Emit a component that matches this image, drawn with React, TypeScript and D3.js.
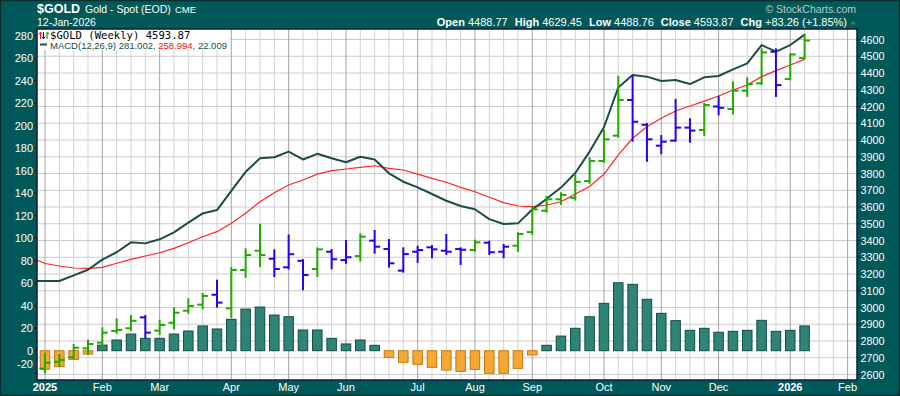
import * as d3 from 'd3';

// weekly bars, first one is the week of 30-Dec-2024 (falls just left of the plot)
const firstWeek = Date.UTC(2024, 11, 30);
const lastGridWeek = Date.UTC(2026, 1, 8);

const open = [2621, 2635, 2676, 2703, 2756, 2790, 2860, 2876, 2941, 2862, 2909, 2981, 3017, 3076, 2995, 3224, 3339, 3291, 3240, 3279, 3230, 3333, 3283, 3307, 3399, 3349, 3220, 3333, 3359, 3339, 3349, 3343, 3387, 3333, 3369, 3450, 3578, 3646, 3655, 3755, 3875, 4026, 4239, 4091, 3966, 3996, 4074, 4060, 4200, 4185, 4294, 4338, 4527, 4364, 4488.77];
const high = [2665, 2725, 2716, 2776, 2802, 2876, 2930, 2949, 2949, 2921, 2995, 3049, 3081, 3160, 3234, 3347, 3493, 3341, 3430, 3283, 3353, 3343, 3397, 3437, 3457, 3403, 3353, 3363, 3367, 3433, 3353, 3399, 3393, 3373, 3443, 3600, 3661, 3682, 3790, 3891, 4054, 4378, 4378, 4096, 4024, 4239, 4124, 4215, 4258, 4344, 4368, 4541, 4541, 4511, 4629.45];
const low = [2596, 2612, 2651, 2697, 2722, 2766, 2850, 2866, 2822, 2842, 2876, 2969, 2995, 3005, 2945, 3184, 3248, 3188, 3234, 3109, 3188, 3234, 3267, 3280, 3327, 3244, 3214, 3273, 3300, 3320, 3260, 3339, 3320, 3300, 3339, 3440, 3572, 3618, 3645, 3745, 3870, 4020, 3996, 3876, 3921, 3996, 3990, 4030, 4153, 4159, 4263, 4334, 4263, 4362, 4488.76];
const close = [2640, 2670, 2687, 2760, 2782, 2850, 2866, 2921, 2850, 2896, 2969, 3009, 3069, 3029, 3224, 3313, 3313, 3230, 3318, 3194, 3347, 3288, 3300, 3423, 3363, 3264, 3319, 3343, 3347, 3333, 3345, 3389, 3330, 3363, 3439, 3586, 3646, 3672, 3750, 3875, 4004, 4239, 4109, 4004, 3990, 4074, 4056, 4209, 4192, 4294, 4334, 4523, 4328, 4510.61, 4593.87];
// u = up week (green), d = down week (blue), as coloured on the chart
const tone = 'uuuuuuuu' + 'd' + 'uuuu' + 'd' + 'uuu' + 'ddd' + 'u' + 'dd' + 'u' + 'ddddddd' + 'u' + 'dd' + 'uuuuuuuu' + 'ddddd' + 'u' + 'd' + 'uuu' + 'd' + 'uu';

const macd = [62, 62, 62, 67, 72, 81, 87.5, 96.3, 95.4, 99, 105.2, 113.8, 122, 125, 142, 159, 171, 172, 177, 170, 175, 171, 167.5, 172.4, 170, 157.7, 150.2, 145.2, 139.3, 133.3, 128.6, 125.7, 117, 112.6, 113.2, 125.5, 135, 145, 158, 177, 198.6, 234, 245, 243.6, 239.7, 240.6, 237, 243, 244.2, 250.1, 255.4, 271.7, 265.8, 271.7, 281.002];
const signal = [83, 77.5, 75.3, 73.5, 73.2, 74.1, 77.7, 81.2, 84.2, 87.1, 91, 96, 101.3, 105.8, 113.2, 122.1, 132.4, 140.4, 147.3, 151.7, 157, 160, 161.5, 163, 164.4, 162.1, 160.6, 157, 153.2, 149.7, 145.2, 141.3, 136.4, 131.6, 128.6, 128, 129.5, 132.4, 139.3, 146, 156.8, 174, 188.8, 199.1, 206.6, 213.1, 217.5, 221.9, 226.4, 231.7, 236.2, 243.6, 249, 254, 258.994];
const histogram = [-19, -16.5, -14.2, -7.7, -3, 5, 9.5, 14.8, 11, 11, 14.8, 17.5, 22, 19.3, 27.9, 37, 38.8, 31.7, 30.2, 18.4, 18.4, 11, 6, 9.5, 4.8, -5.9, -10.3, -12.1, -14.8, -17.2, -18.4, -16.6, -20.1, -20.1, -15.7, -3.8, 4.8, 13, 19.9, 30.2, 42.1, 60.4, 59, 45.7, 33.2, 26.7, 18.1, 19.9, 16.4, 17.2, 18.1, 27, 17.2, 18.1, 22.009];

const macdTicks = [-20, 0, 20, 40, 60, 80, 100, 120, 140, 160, 180, 200, 220, 240, 260, 280];
const priceTicks = [2600, 2700, 2800, 2900, 3000, 3100, 3200, 3300, 3400, 3500, 3600, 3700, 3800, 3900, 4000, 4100, 4200, 4300, 4400, 4500, 4600];

const BG = '#015858';
const UP = '#22aa00';
const DOWN = '#2a00ee';
const MACD_C = '#1c4c4a';
const SIG_C = '#ff2424';
const FONT = '"Liberation Sans", Arial, sans-serif';

const plot = { left: 37, top: 29, right: 857, bottom: 380 };

export default function App() {
  const weeks = d3.utcMonday.range(new Date(firstWeek), new Date(lastGridWeek));
  const n = close.length;
  const last = n - 1;

  const x = d3.scaleUtc().domain([weeks[1], weeks[last]]).range([45, 804.6]);
  const yPrice = d3.scaleLinear().domain([2600, 4600]).range([374.5, 39.5]);
  const yMacd = d3.scaleLinear().domain([-20, 280]).range([373.2, 35.7]);

  const lineOf = (vals: number[]) =>
    d3.line<number>().x((_, i) => x(weeks[i])).y((v) => yMacd(v))(vals) ?? '';

  // month starts get a darker grid line and a label
  const monthStarts = weeks.filter((w, i) => i > 0 && w.getUTCMonth() !== weeks[i - 1].getUTCMonth());
  const isMonthStart = (w: Date) => monthStarts.some((m) => +m === +w);

  const chg = close[last] - close[last - 1];
  const pct = (chg / close[last - 1]) * 100;
  const quote: [string, string][] = [
    ['Open', open[last].toFixed(2)],
    ['High', high[last].toFixed(2)],
    ['Low', low[last].toFixed(2)],
    ['Close', close[last].toFixed(2)],
    ['Chg', `+${chg.toFixed(2)} (+${pct.toFixed(2)}%)`],
  ];

  const barW = 9.5;
  const tick = 5.5;

  return (
    <div style={{ position: 'absolute', left: 0, top: 0 }}>
      <svg width={900} height={396} style={{ display: 'block', fontFamily: FONT }}>
        <defs>
          <clipPath id="plotClip">
            <rect x={plot.left} y={plot.top} width={plot.right - plot.left} height={plot.bottom - plot.top} />
          </clipPath>
        </defs>

        <rect x={0} y={0} width={900} height={396} fill={BG} />
        <rect x={0.5} y={0.5} width={899} height={395} fill="none" stroke="#0c2e2e" strokeWidth={1.5} />

        {/* Header */}
        <text x={37} y={13} fill="#fff" fontSize={12.5} fontWeight="bold">$GOLD</text>
        <text x={85} y={13} fill="#fff" fontSize={10.5}>Gold - Spot (EOD)</text>
        <text x={175} y={13} fill="#fff" fontSize={9.5}>CME</text>
        <text x={37} y={26} fill="#fff" fontSize={10.5}>12-Jan-2026</text>
        <text x={856} y={12.5} fill="#b9caca" fontSize={10.5} textAnchor="end">© StockCharts.com</text>
        <text x={847} y={26} fill="#fff" fontSize={11} textAnchor="end">
          {quote.map(([label, val], i) => (
            <tspan key={label}>
              <tspan dx={i === 0 ? 0 : 7} fontWeight="bold">{label}</tspan>
              <tspan>{' ' + val}</tspan>
            </tspan>
          ))}
        </text>
        <path d="M850,24.5 L853,20.5 L856,24.5 Z" fill="#3d7a55" />

        {/* Plot */}
        <rect x={plot.left} y={plot.top} width={plot.right - plot.left} height={plot.bottom - plot.top} fill="#fff" />
        <g clipPath="url(#plotClip)">
          {priceTicks.map((p) => (
            <line key={p} x1={plot.left} x2={plot.right} y1={yPrice(p)} y2={yPrice(p)} stroke="#cbcbcb" strokeWidth={1} />
          ))}
          {weeks.map((w) => (
            <line
              key={+w}
              x1={x(w)}
              x2={x(w)}
              y1={plot.top}
              y2={plot.bottom}
              stroke={isMonthStart(w) ? '#a4a4a4' : '#d2d2d2'}
              strokeWidth={1}
            />
          ))}

          {/* legend backing */}
          <rect x={plot.left + 1} y={plot.top + 1} width={192} height={20} fill="#fff" />

          {/* MACD histogram */}
          {histogram.map((v, i) => (
            <rect
              key={i}
              x={x(weeks[i]) - barW / 2}
              y={yMacd(Math.max(v, 0))}
              width={barW}
              height={Math.abs(yMacd(v) - yMacd(0))}
              fill={v >= 0 ? '#2e8577' : '#f7a733'}
              stroke={v >= 0 ? '#124c44' : '#c27814'}
              strokeWidth={1}
            />
          ))}

          <path d={lineOf(signal)} fill="none" stroke={SIG_C} strokeWidth={1.2} />
          <path d={lineOf(macd)} fill="none" stroke={MACD_C} strokeWidth={2} strokeLinejoin="round" />

          {/* OHLC bars */}
          {close.map((c, i) => {
            const cx = x(weeks[i]);
            const col = tone[i] === 'u' ? UP : DOWN;
            return (
              <g key={i} stroke={col} strokeWidth={2}>
                <line x1={cx} x2={cx} y1={yPrice(high[i]) - 1} y2={yPrice(low[i]) + 1} />
                <line x1={cx - tick} x2={cx} y1={yPrice(open[i])} y2={yPrice(open[i])} />
                <line x1={cx} x2={cx + tick} y1={yPrice(c)} y2={yPrice(c)} />
              </g>
            );
          })}
        </g>

        {/* Legend */}
        <g>
          <line x1={40.5} x2={40.5} y1={33} y2={39} stroke="#e02020" strokeWidth={1} />
          <path d="M38.8,34.5 L40.5,32 L42.2,34.5" fill="none" stroke="#e02020" strokeWidth={1} />
          <line x1={43.5} x2={43.5} y1={32} y2={38} stroke={DOWN} strokeWidth={1} />
          <path d="M41.8,36.5 L43.5,39 L45.2,36.5" fill="none" stroke={DOWN} strokeWidth={1} />
          <line x1={47} x2={47} y1={32} y2={39} stroke={UP} strokeWidth={1.3} />
          <line x1={47} x2={49} y1={33.5} y2={33.5} stroke={UP} strokeWidth={1.3} />
          <text x={50} y={39} fontSize={10.6} fill="#000" fontFamily='"DejaVu Sans Mono", monospace'>
            {`$GOLD (Weekly) ${close[last].toFixed(2)}`}
          </text>
          <line x1={40} x2={47} y1={44.5} y2={44.5} stroke={MACD_C} strokeWidth={2} />
          <text x={50} y={48.5} fontSize={9.5} fill="#0f5050">
            <tspan>{`MACD(12,26,9) ${macd[last].toFixed(3)}, `}</tspan>
            <tspan fill="#ee1111">{signal[last].toFixed(3)}</tspan>
            <tspan>{`, ${histogram[last].toFixed(3)}`}</tspan>
          </text>
        </g>

        <rect
          x={plot.left}
          y={plot.top}
          width={plot.right - plot.left}
          height={plot.bottom - plot.top}
          fill="none"
          stroke="#0a1e3c"
          strokeWidth={1.5}
        />

        {/* Left axis: MACD (bottom label is pushed up to fit, as in the original) */}
        {macdTicks.map((t) => (
          <g key={t}>
            <line x1={33.5} x2={plot.left} y1={yMacd(t)} y2={yMacd(t)} stroke="#0a1e3c" strokeWidth={1} />
            <text x={33} y={Math.min(yMacd(t) + 4, 367.5)} fill="#fff" fontSize={11} textAnchor="end">{t}</text>
          </g>
        ))}

        {/* Right axis: price */}
        {priceTicks.map((p) => (
          <g key={p}>
            <line x1={plot.right} x2={plot.right + 3.5} y1={yPrice(p)} y2={yPrice(p)} stroke="#0a1e3c" strokeWidth={1} />
            <text x={860.5} y={yPrice(p) + 4} fill="#fff" fontSize={10.8}>{p}</text>
          </g>
        ))}

        {/* Bottom axis */}
        {monthStarts.map((m) => {
          const jan = m.getUTCMonth() === 0;
          return (
            <text
              key={+m}
              x={x(m)}
              y={391}
              fill="#fff"
              fontSize={11}
              fontWeight={jan ? 'bold' : 'normal'}
              textAnchor="middle"
            >
              {jan ? d3.utcFormat('%Y')(m) : d3.utcFormat('%b')(m)}
            </text>
          );
        })}
      </svg>
    </div>
  );
}
